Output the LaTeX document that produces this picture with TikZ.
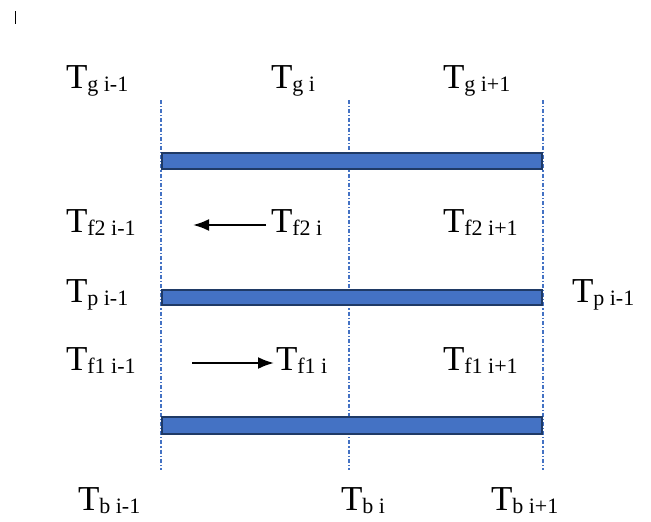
\documentclass[tikz,border=0pt]{standalone}
\usepackage{fontspec}
\setmainfont{Liberation Serif}
\usetikzlibrary{arrows.meta}
\definecolor{barfill}{HTML}{4472C4}
\definecolor{barline}{HTML}{1F3A66}
\newcommand{\tlabel}[1]{{\fontsize{35}{35}\selectfont T}\raisebox{-3pt}{\fontsize{22}{22}\selectfont #1}}
\begin{document}
\begin{tikzpicture}[x=1pt,y=-1pt,
  gridline/.style={draw=barfill, line width=1.2pt, dash pattern=on 4pt off 2pt on 1.2pt off 2pt},
  bar/.style={draw=barline, fill=barfill, line width=2pt},
  lbl/.style={anchor=base west, inner sep=0pt, outer sep=1pt},
  flow/.style={-{Latex[length=16pt,width=12pt]}, line width=2.2pt}]
\useasboundingbox (0,0) rectangle (651,522);
% cursor mark
\draw[line width=1pt] (15,11) -- (15,24);
% grid lines
\foreach \x/\n in {161/a,349/b,543/c} {
  \coordinate (\n top) at (\x,100);
  \coordinate (\n bot) at (\x,470);
  \draw[gridline] (\n top) -- (\n bot);
}
% slabs
\draw[bar] (162,153) rectangle (542,169);
\draw[bar] (162,290) rectangle (542,305);
\draw[bar] (162,417) rectangle (542,434);
% top row
\node[lbl] (g1) at (65,88) {\tlabel{g i-1}};
\node[lbl] (g2) at (270,88) {\tlabel{g i}};
\node[lbl] (g3) at (442,88) {\tlabel{g i+1}};
% fluid 2 row
\node[lbl] (f21) at (65,232) {\tlabel{f2 i-1}};
\node[lbl] (f22) at (270,232) {\tlabel{f2 i}};
\node[lbl] (f23) at (442,232) {\tlabel{f2 i+1}};
\coordinate (f2end) at (193,225);
\draw[flow] (266,225) -- (f2end);
% plate row
\node[lbl] (p1) at (65,302) {\tlabel{p i-1}};
\node[lbl] (p2) at (571,302) {\tlabel{p i-1}};
% fluid 1 row
\node[lbl] (f11) at (65,370) {\tlabel{f1 i-1}};
\node[lbl] (f12) at (275,370) {\tlabel{f1 i}};
\node[lbl] (f13) at (442,370) {\tlabel{f1 i+1}};
\coordinate (f1start) at (192,363);
\draw[flow] (f1start) -- (274,363);
% bottom row
\node[lbl] (b1) at (77,510) {\tlabel{b i-1}};
\node[lbl] (b2) at (340,510) {\tlabel{b i}};
\node[lbl] (b3) at (490,510) {\tlabel{b i+1}};
\end{tikzpicture}
\end{document}
